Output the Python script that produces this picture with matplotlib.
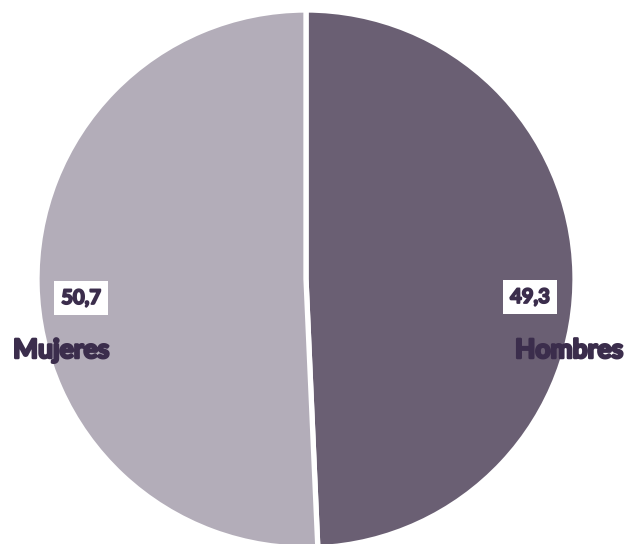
import matplotlib.pyplot as plt
import matplotlib.patheffects as pe

categories = ["Hombres", "Mujeres"]
values = [49.3, 50.7]
value_labels = ["49,3", "50,7"]
colors = ["#6a5f73", "#b3adb9"]
text_color = "#3b2d4c"

W, H = 627, 544
fig = plt.figure(figsize=(W / 100, H / 100), dpi=100)
ax = fig.add_axes([0, 0, 1, 1])
ax.set_xlim(0, W)
ax.set_ylim(0, H)
ax.set_aspect("equal")
ax.axis("off")

cx, cy, r = 306, H - 279, 269
ax.pie(values, colors=colors, startangle=90, counterclock=False,
       center=(cx, cy), radius=r,
       wedgeprops=dict(edgecolor="white", linewidth=3.8))
ax.set_xlim(0, W)
ax.set_ylim(0, H)

font = ["Lato", "DejaVu Sans"]
thick = [pe.withStroke(linewidth=1.3, foreground=text_color)]
# value boxes
for x, y, s in [(530, 297, value_labels[0]), (81, 298, value_labels[1])]:
    t = ax.text(x, H - y, s, ha="center", va="center", fontsize=14.5,
                fontweight="bold", color=text_color, family=font,
                bbox=dict(boxstyle="square,pad=0.35", fc="white", ec="none"))
    t.set_path_effects(thick)
# category labels
for x, s in [(569, categories[0]), (61, categories[1])]:
    t = ax.text(x, H - 350, s, ha="center", va="center", fontsize=19,
                fontweight="bold", color=text_color, family=font)
    t.set_path_effects([pe.withStroke(linewidth=1.8, foreground=text_color)])

fig.savefig("out.png", dpi=100)
